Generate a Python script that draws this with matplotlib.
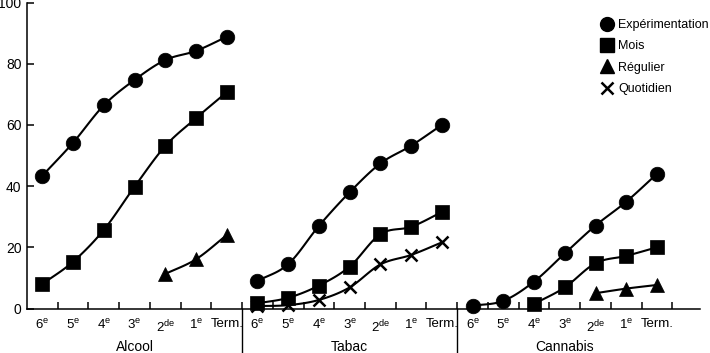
import numpy as np
import matplotlib
matplotlib.use('Agg')
from matplotlib import pyplot as plt
from matplotlib.lines import Line2D

plt.rcParams['font.family'] = ['Liberation Sans', 'DejaVu Sans']
plt.rcParams['mathtext.fontset'] = 'custom'
plt.rcParams['mathtext.rm'] = 'Liberation Sans'
plt.rcParams['mathtext.it'] = 'Liberation Sans'

# data
groups = ['Alcool', 'Tabac', 'Cannabis']
grades = ['6$^{\\rm e}$', '5$^{\\rm e}$', '4$^{\\rm e}$', '3$^{\\rm e}$',
          '2$^{\\rm de}$', '1$^{\\rm e}$', 'Term.']

alcool_exp = [43.4, 54.2, 66.4, 74.7, 81.2, 84.2, 88.8]
alcool_mois = [8.0, 15.3, 25.7, 39.8, 53.1, 62.2, 70.7]
alcool_reg = [None, None, None, None, 11.3, 16.1, 24.0]

tabac_exp = [9.0, 14.5, 27.0, 38.0, 47.4, 53.2, 60.0]
tabac_mois = [1.7, 3.5, 7.5, 13.7, 24.3, 26.7, 31.5]
tabac_quot = [0.8, 1.1, 2.8, 6.9, 14.4, 17.5, 21.6]

cannabis_exp = [0.9, 2.5, 8.8, 18.0, 27.1, 34.9, 44.0]
cannabis_mois = [None, None, 1.5, 6.9, 14.8, 17.2, 20.0]
cannabis_reg = [None, None, None, None, 5.0, 6.5, 7.7]

series = [
    (0, alcool_exp, 'o'), (0, alcool_mois, 's'), (0, alcool_reg, '^'),
    (1, tabac_exp, 'o'), (1, tabac_mois, 's'), (1, tabac_quot, 'x'),
    (2, cannabis_exp, 'o'), (2, cannabis_mois, 's'), (2, cannabis_reg, '^'),
]
msizes = {'o': 10.5, 's': 10, '^': 10, 'x': 8.5}


def smooth(x, y, n=12):
    # catmull-rom curve through the points, only for drawing the line
    x = np.asarray(x, float)
    y = np.asarray(y, float)
    if len(x) < 3:
        return x, y
    px = np.concatenate([[2 * x[0] - x[1]], x, [2 * x[-1] - x[-2]]])
    py = np.concatenate([[2 * y[0] - y[1]], y, [2 * y[-1] - y[-2]]])
    xs, ys = [], []
    t = np.linspace(0, 1, n, endpoint=False)
    for i in range(1, len(px) - 2):
        for p, out in ((px, xs), (py, ys)):
            p0, p1, p2, p3 = p[i - 1], p[i], p[i + 1], p[i + 2]
            out.extend(0.5 * (2 * p1 + (-p0 + p2) * t
                              + (2 * p0 - 5 * p1 + 4 * p2 - p3) * t ** 2
                              + (-p0 + 3 * p1 - 3 * p2 + p3) * t ** 3))
    xs.append(x[-1])
    ys.append(y[-1])
    return np.array(xs), np.array(ys)


fig = plt.figure(figsize=(7.1, 3.53), dpi=100)
ax = fig.add_axes([27 / 710, 44.5 / 353, 673 / 710, 306 / 353])

ng = len(grades)
for g, vals, m in series:
    xi = [g * ng + i for i, v in enumerate(vals) if v is not None]
    yi = [v for v in vals if v is not None]
    sx, sy = smooth(xi, yi)
    ax.plot(sx, sy, color='black', lw=1.5, zorder=2)
    ax.plot(xi, yi, ls='none', marker=m, ms=msizes[m], color='black',
            mew=1.8 if m == 'x' else 0.5, zorder=3, clip_on=False)

ax.set_xlim(-0.5, 21.4)
ax.set_ylim(0, 100)
ax.spines['top'].set_visible(False)
ax.spines['right'].set_visible(False)
for s in ('left', 'bottom'):
    ax.spines[s].set_linewidth(1.1)

ax.set_yticks([0, 20, 40, 60, 80, 100])
ax.tick_params(axis='y', direction='in', length=5, width=1.1, labelsize=10, pad=4)

ax.set_xticks(np.arange(3 * ng))
ax.set_xticklabels(grades * 3)
ax.set_xticks(np.arange(3 * ng) + 0.5, minor=True)
ax.tick_params(axis='x', which='major', length=0, labelsize=9.5, pad=7)
ax.tick_params(axis='x', which='minor', direction='in', length=5, width=1.1)

trans = ax.get_xaxis_transform()
for k in range(1, len(groups)):
    xs = k * ng - 0.5
    ax.plot([xs, xs], [0, -0.16], color='black', lw=1.0, transform=trans,
            clip_on=False)
for k, name in enumerate(groups):
    ax.text(k * ng + (ng - 1) / 2, -0.125, name, transform=trans,
            ha='center', va='center', fontsize=10)

handles = [
    Line2D([], [], ls='none', marker='o', ms=10, color='black', label='Expérimentation'),
    Line2D([], [], ls='none', marker='s', ms=9.5, color='black', label='Mois'),
    Line2D([], [], ls='none', marker='^', ms=9.5, color='black', label='Régulier'),
    Line2D([], [], ls='none', marker='x', ms=8, mew=1.8, color='black', label='Quotidien'),
]
ax.legend(handles=handles, loc='upper left', bbox_to_anchor=(0.839, 0.975),
          frameon=False, fontsize=9, handlelength=1.0, handletextpad=0.4,
          labelspacing=0.75, borderaxespad=0.3)

fig.savefig('out.png', dpi=100)
